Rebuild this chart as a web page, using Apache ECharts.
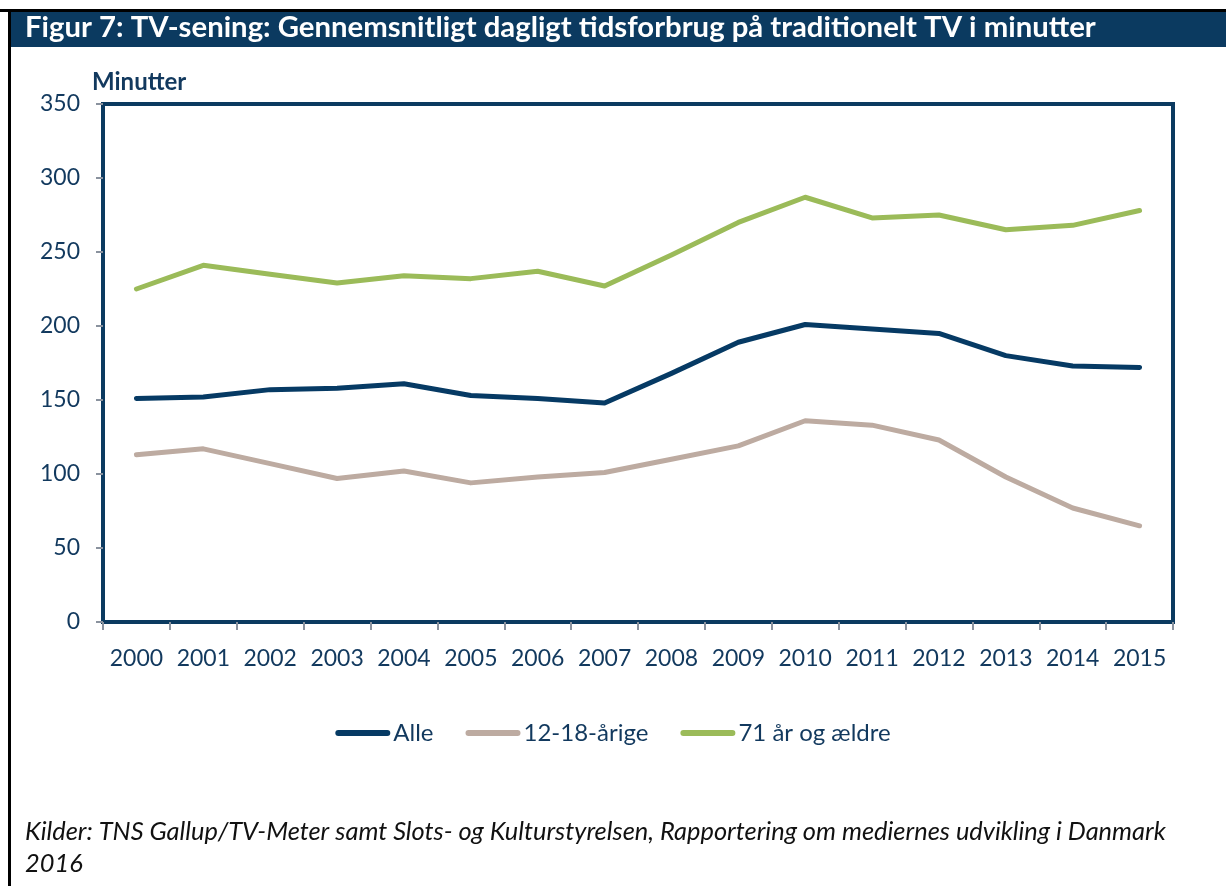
<!DOCTYPE html>
<html>
<head>
<meta charset="utf-8">
<script src="https://cdn.jsdelivr.net/npm/echarts@6/dist/echarts.min.js"></script>
<style>
  html, body { margin: 0; padding: 0; background: #ffffff; }
  #chart { width: 1226px; height: 886px; }
</style>
</head>
<body>
<div id="chart"></div>
<script>
// Years on the x axis
const years = ['2000','2001','2002','2003','2004','2005','2006','2007',
               '2008','2009','2010','2011','2012','2013','2014','2015'];

// Average daily minutes of traditional TV viewing
const alle =      [151, 152, 157, 158, 161, 153, 151, 148, 168, 189, 201, 198, 195, 180, 173, 172];
const unge =      [113, 117, 107,  97, 102,  94,  98, 101, 110, 119, 136, 133, 123,  98,  77,  65];
const aeldre =    [225, 241, 235, 229, 234, 232, 237, 227, 248, 270, 287, 273, 275, 265, 268, 278];

// Series names as shown in the legend
const seriesNames = ['Alle', '12-18-årige', '71 år og ældre'];

// Value axis range
const yMin = 0, yMax = 350, yStep = 50;

const titleText = 'Figur 7: TV-sening: Gennemsnitligt dagligt tidsforbrug på traditionelt TV i minutter';
const unitText = 'Minutter';
const sourceLines = [
  'Kilder: TNS Gallup/TV-Meter samt Slots- og Kulturstyrelsen, Rapportering om mediernes udvikling i Danmark',
  '2016'
];

const navy = '#0b3a60';
const textBlue = '#12395e';
const tickGray = '#8a929e';
const font = 'Lato, "Open Sans", sans-serif';

const chart = echarts.init(document.getElementById('chart'), null, { renderer: 'canvas' });

const lineIcon = 'path://M3,0 H52 A3,3 0 0 1 52,6 H3 A3,3 0 0 1 3,0 Z';

chart.setOption({
  backgroundColor: '#ffffff',
  animation: false,
  textStyle: { fontFamily: font },
  graphic: [
    // outer frame lines
    { type: 'rect', shape: { x: 0, y: 9, width: 1226, height: 3 }, style: { fill: '#000000' }, silent: true },
    { type: 'rect', shape: { x: 8, y: 9, width: 3, height: 877 }, style: { fill: '#000000' }, silent: true },
    // title bar
    { type: 'rect', shape: { x: 11, y: 12, width: 1215, height: 35 }, style: { fill: navy }, silent: true },
    { type: 'text', left: 25, top: 13,
      style: { text: titleText, fill: '#ffffff', font: 'bold 29.3px ' + font } },
    // unit label above the value axis
    { type: 'text', left: 92, top: 70,
      style: { text: unitText, fill: textBlue, font: 'bold 24px ' + font } },
    // source note
    { type: 'text', left: 25, top: 816,
      style: { text: sourceLines.join('\n'), fill: '#111111', font: 'italic 25.4px ' + font, lineHeight: 32 } }
  ],
  legend: {
    data: seriesNames,
    top: 716,
    left: 'center',
    icon: lineIcon,
    itemWidth: 55,
    itemHeight: 6,
    itemGap: 32,
    textStyle: { color: textBlue, fontSize: 24, fontFamily: font, padding: [0, 0, 0, -2] }
  },
  grid: {
    left: 103, right: 53, top: 104, bottom: 264,
    show: true,
    borderColor: navy,
    borderWidth: 4,
    containLabel: false
  },
  xAxis: {
    type: 'category',
    data: years,
    boundaryGap: true,
    axisLine: { show: true, lineStyle: { color: navy, width: 3 } },
    axisTick: { show: true, length: 8, lineStyle: { color: tickGray, width: 2 } },
    axisLabel: { color: textBlue, fontSize: 23, fontFamily: font, margin: 25, interval: 0 },
    splitLine: { show: false }
  },
  yAxis: {
    type: 'value',
    min: yMin, max: yMax, interval: yStep,
    axisLine: { show: true, lineStyle: { color: navy, width: 3 } },
    axisTick: { show: true, length: 7, lineStyle: { color: tickGray, width: 2 } },
    axisLabel: { color: textBlue, fontSize: 23, fontFamily: font, margin: 23 },
    splitLine: { show: false }
  },
  series: [
    { name: seriesNames[0], type: 'line', data: alle, symbol: 'none', color: '#063a64',
      lineStyle: { width: 5, color: '#063a64', cap: 'round', join: 'round' } },
    { name: seriesNames[1], type: 'line', data: unge, symbol: 'none', color: '#bdaba1',
      lineStyle: { width: 5, color: '#bdaba1', cap: 'round', join: 'round' } },
    { name: seriesNames[2], type: 'line', data: aeldre, symbol: 'none', color: '#9bbb59',
      lineStyle: { width: 5, color: '#9bbb59', cap: 'round', join: 'round' } }
  ]
});
</script>
</body>
</html>
